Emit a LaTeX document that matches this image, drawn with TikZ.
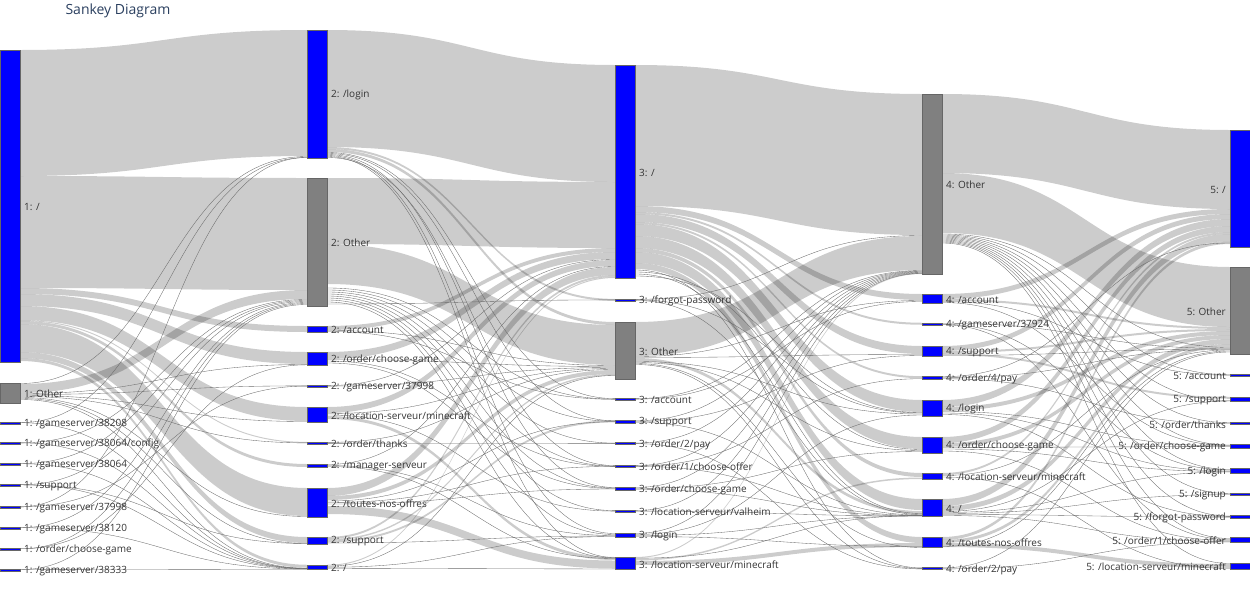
\documentclass[tikz,border=0pt]{standalone}
\usepackage{fontspec}
\setmainfont{Open Sans}
\usetikzlibrary{positioning}
\pgfdeclarelayer{links}
\pgfsetlayers{links,main}
\definecolor{pageblue}{RGB}{0,0,255}
\definecolor{othergray}{RGB}{128,128,128}
\definecolor{titleblue}{HTML}{2A3F5F}
\definecolor{labelgray}{HTML}{333333}

% ribbon: source, offset, target, offset, width (px from the node tops)
\newcommand\ribbon[5]{\fill[band] ([yshift={-(#2)*1pt}]#1.north east) .. controls +(144,0) and +(-144,0) .. ([yshift={-(#4)*1pt}]#3.north west)
  -- ([yshift={-(#4+#5)*1pt}]#3.north west) .. controls +(-144,0) and +(144,0) .. ([yshift={-(#2+#5)*1pt}]#1.north east) -- cycle;}
% thin link: source, offset, target, offset
\newcommand\hop[4]{\draw[hopline] ([yshift={-(#2)*1pt}]#1.north east) .. controls +(144,0) and +(-144,0) .. ([yshift={-(#4)*1pt}]#3.north west);}

\begin{document}
\begin{tikzpicture}[x=1pt,y=-1pt,
  bar/.style={rectangle, inner sep=0, outer sep=0, minimum width=20pt, draw=black!60, line width=0.3pt},
  pg/.style={bar, fill=pageblue},
  ot/.style={bar, fill=othergray},
  lbl/.style={inner sep=0, yshift=-1pt, font=\fontsize{10}{12}\selectfont, text=labelgray},
  band/.style={fill=black, fill opacity=0.2},
  hopline/.style={draw=black!58, line width=0.35pt}]
\useasboundingbox (0,0) rectangle (1250,600);

\node[anchor=west, font=\fontsize{14}{16}\selectfont, text=titleblue] (title) at (62,11) {Sankey Diagram};

% step 1
\node[pg, minimum height=312pt] (a1) at (10,206) {};
\node[ot, minimum height=20pt] (a2) at (10,393) {};
\node[pg, minimum height=1.6pt] (a3) at (10,423) {};
\node[pg, minimum height=1.8pt] (a4) at (10,443) {};
\node[pg, minimum height=1.6pt] (a5) at (10,464) {};
\node[pg, minimum height=2.4pt] (a6) at (10,485) {};
\node[pg, minimum height=1.8pt] (a7) at (10,507) {};
\node[pg, minimum height=1.6pt] (a8) at (10,528) {};
\node[pg, minimum height=2.4pt] (a9) at (10,549) {};
\node[pg, minimum height=1.6pt] (a10) at (10,570) {};

% step 2
\node[pg, minimum height=128pt] (b1) at (317,94) {};
\node[ot, minimum height=128pt] (b2) at (317,242) {};
\node[pg, minimum height=6pt] (b3) at (317,329) {};
\node[pg, minimum height=13pt] (b4) at (317,358.5) {};
\node[pg, minimum height=1.8pt] (b5) at (317,386) {};
\node[pg, minimum height=15pt] (b6) at (317,414.5) {};
\node[pg, minimum height=2.2pt] (b7) at (317,443) {};
\node[pg, minimum height=3pt] (b8) at (317,465.5) {};
\node[pg, minimum height=29pt] (b9) at (317,502.5) {};
\node[pg, minimum height=7pt] (b10) at (317,540.5) {};
\node[pg, minimum height=4.5pt] (b11) at (317,567) {};

% step 3
\node[pg, minimum height=213pt] (c1) at (625,171.5) {};
\node[pg, minimum height=2.2pt] (c2) at (625,300) {};
\node[ot, minimum height=57pt] (c3) at (625,350.5) {};
\node[pg, minimum height=1.8pt] (c4) at (625,399) {};
\node[pg, minimum height=2.5pt] (c5) at (625,421.5) {};
\node[pg, minimum height=1.8pt] (c6) at (625,443.5) {};
\node[pg, minimum height=1.8pt] (c7) at (625,466) {};
\node[pg, minimum height=3pt] (c8) at (625,488.5) {};
\node[pg, minimum height=1.8pt] (c9) at (625,511) {};
\node[pg, minimum height=4pt] (c10) at (625,535) {};
\node[pg, minimum height=12.5pt] (c11) at (625,563.25) {};

% step 4
\node[ot, minimum height=180pt] (d1) at (932,184) {};
\node[pg, minimum height=9pt] (d2) at (932,298.5) {};
\node[pg, minimum height=2.5pt] (d3) at (932,324) {};
\node[pg, minimum height=10pt] (d4) at (932,351) {};
\node[pg, minimum height=3pt] (d5) at (932,377.7) {};
\node[pg, minimum height=16pt] (d6) at (932,408) {};
\node[pg, minimum height=16pt] (d7) at (932,445) {};
\node[pg, minimum height=6pt] (d8) at (932,476) {};
\node[pg, minimum height=17pt] (d9) at (932,507.5) {};
\node[pg, minimum height=10pt] (d10) at (932,542) {};
\node[pg, minimum height=2.2pt] (d11) at (932,568.5) {};

% step 5
\node[pg, minimum height=117pt] (e1) at (1240,188.5) {};
\node[ot, minimum height=87pt] (e2) at (1240,310.5) {};
\node[pg, minimum height=2.2pt] (e3) at (1240,375.3) {};
\node[pg, minimum height=4.5pt] (e4) at (1240,399) {};
\node[pg, minimum height=2.2pt] (e5) at (1240,423.3) {};
\node[pg, minimum height=4pt] (e6) at (1240,446) {};
\node[pg, minimum height=5pt] (e7) at (1240,471) {};
\node[pg, minimum height=2.2pt] (e8) at (1240,494.3) {};
\node[pg, minimum height=2.2pt] (e9) at (1240,516.7) {};
\node[pg, minimum height=5pt] (e10) at (1240,540) {};
\node[pg, minimum height=6pt] (e11) at (1240,566) {};

% labels
\node[lbl, right=4pt of a1] {1: /};
\node[lbl, right=4pt of a2] {1: Other};
\node[lbl, right=4pt of a3] {1: /gameserver/38208};
\node[lbl, right=4pt of a4] {1: /gameserver/38064/config};
\node[lbl, right=4pt of a5] {1: /gameserver/38064};
\node[lbl, right=4pt of a6] {1: /support};
\node[lbl, right=4pt of a7] {1: /gameserver/37998};
\node[lbl, right=4pt of a8] {1: /gameserver/38120};
\node[lbl, right=4pt of a9] {1: /order/choose-game};
\node[lbl, right=4pt of a10] {1: /gameserver/38333};
\node[lbl, right=4pt of b1] {2: /login};
\node[lbl, right=4pt of b2] {2: Other};
\node[lbl, right=4pt of b3] {2: /account};
\node[lbl, right=4pt of b4] {2: /order/choose-game};
\node[lbl, right=4pt of b5] {2: /gameserver/37998};
\node[lbl, right=4pt of b6] {2: /location-serveur/minecraft};
\node[lbl, right=4pt of b7] {2: /order/thanks};
\node[lbl, right=4pt of b8] {2: /manager-serveur};
\node[lbl, right=4pt of b9] {2: /toutes-nos-offres};
\node[lbl, right=4pt of b10] {2: /support};
\node[lbl, right=4pt of b11] {2: /};
\node[lbl, right=4pt of c1] {3: /};
\node[lbl, right=4pt of c2] {3: /forgot-password};
\node[lbl, right=4pt of c3] {3: Other};
\node[lbl, right=4pt of c4] {3: /account};
\node[lbl, right=4pt of c5] {3: /support};
\node[lbl, right=4pt of c6] {3: /order/2/pay};
\node[lbl, right=4pt of c7] {3: /order/1/choose-offer};
\node[lbl, right=4pt of c8] {3: /order/choose-game};
\node[lbl, right=4pt of c9] {3: /location-serveur/valheim};
\node[lbl, right=4pt of c10] {3: /login};
\node[lbl, right=4pt of c11] {3: /location-serveur/minecraft};
\node[lbl, right=4pt of d1] {4: Other};
\node[lbl, right=4pt of d2] {4: /account};
\node[lbl, right=4pt of d3] {4: /gameserver/37924};
\node[lbl, right=4pt of d4] {4: /support};
\node[lbl, right=4pt of d5] {4: /order/4/pay};
\node[lbl, right=4pt of d6] {4: /login};
\node[lbl, right=4pt of d7] {4: /order/choose-game};
\node[lbl, right=4pt of d8] {4: /location-serveur/minecraft};
\node[lbl, right=4pt of d9] {4: /};
\node[lbl, right=4pt of d10] {4: /toutes-nos-offres};
\node[lbl, right=4pt of d11] {4: /order/2/pay};
\node[lbl, left=4pt of e1] {5: /};
\node[lbl, left=4pt of e2] {5: Other};
\node[lbl, left=4pt of e3] {5: /account};
\node[lbl, left=4pt of e4] {5: /support};
\node[lbl, left=4pt of e5] {5: /order/thanks};
\node[lbl, left=4pt of e6] {5: /order/choose-game};
\node[lbl, left=4pt of e7] {5: /login};
\node[lbl, left=4pt of e8] {5: /signup};
\node[lbl, left=4pt of e9] {5: /forgot-password};
\node[lbl, left=4pt of e10] {5: /order/1/choose-offer};
\node[lbl, left=4pt of e11] {5: /location-serveur/minecraft};

\begin{pgfonlayer}{links}
% step 1 -> 2
\ribbon{a1}{0}{b1}{0}{126}
\ribbon{a1}{126}{b2}{0}{112}
\ribbon{a1}{238}{b3}{0}{6}
\ribbon{a1}{244}{b4}{0}{12}
\ribbon{a1}{256}{b6}{0}{14}
\ribbon{a1}{270}{b7}{0}{1}
\ribbon{a1}{271}{b8}{0}{3}
\ribbon{a1}{274}{b9}{0}{28}
\ribbon{a1}{302}{b10}{0}{6}
\ribbon{a1}{308}{b11}{0}{3}
\ribbon{a2}{1}{b2}{112}{9}
% step 2 -> 3
\ribbon{b1}{0}{c1}{0}{117}
\ribbon{b1}{117}{c2}{0}{2}
\ribbon{b1}{119}{c3}{0}{3}
\ribbon{b2}{0}{c1}{117}{66}
\ribbon{b2}{66}{c3}{3}{40}
\ribbon{b3}{0}{c1}{183}{4}
\ribbon{b4}{0}{c1}{187}{7}
\ribbon{b6}{0}{c1}{195}{6}
\ribbon{b6}{9}{c11}{0}{3}
\ribbon{b9}{0}{c1}{202}{8}
\ribbon{b9}{8}{c3}{48}{4}
\ribbon{b9}{18}{c11}{3.5}{8}
\ribbon{b10}{0}{c1}{210}{2}
\ribbon{b10}{2}{c3}{52}{1.5}
\ribbon{b10}{3.5}{c5}{0}{2}
\ribbon{b11}{0}{c1}{212}{1}
% step 3 -> 4
\ribbon{c1}{0}{d1}{0}{141}
\ribbon{c1}{141}{d2}{0}{6}
\ribbon{c1}{147}{d3}{0}{2}
\ribbon{c1}{149}{d4}{0}{8}
\ribbon{c1}{157}{d5}{0}{2}
\ribbon{c1}{159}{d6}{0}{12}
\ribbon{c1}{171}{d7}{0}{12}
\ribbon{c1}{183}{d8}{0}{4}
\ribbon{c1}{187}{d9}{0}{11}
\ribbon{c1}{198}{d10}{0}{6}
\ribbon{c3}{0}{d1}{142}{34}
\ribbon{c3}{36}{d9}{12}{3}
\ribbon{c11}{0}{d1}{179}{1}
\ribbon{c11}{2}{d8}{4.5}{1.5}
\ribbon{c11}{4}{d10}{6}{4}
% step 4 -> 5
\ribbon{d1}{0}{e1}{0}{79}
\ribbon{d1}{79}{e2}{0}{60}
\ribbon{d2}{0}{e1}{79}{5}
\ribbon{d2}{5}{e2}{60}{2}
\ribbon{d4}{0}{e1}{84}{5}
\ribbon{d4}{5}{e2}{62}{2}
\ribbon{d4}{7}{e4}{0}{2}
\ribbon{d6}{0}{e1}{89}{7}
\ribbon{d6}{7}{e2}{64}{4}
\ribbon{d7}{0}{e1}{96}{6}
\ribbon{d7}{6}{e2}{68}{4}
\ribbon{d8}{0}{e1}{102}{2}
\ribbon{d9}{0}{e1}{104}{7}
\ribbon{d9}{7}{e2}{72}{5}
\ribbon{d10}{0}{e1}{111}{3}
\ribbon{d10}{3}{e2}{77}{3}
\ribbon{d10}{6}{e11}{1}{4}

% thin links
\foreach \s/\so/\t/\to in {
  a2/0.5/b1/126.5, a2/10.5/b4/12.5, a2/11.5/b5/0.75, a2/12.5/b6/14.5, a2/13.5/b7/1,
  a2/14.5/b9/28.5, a2/15.5/b10/6.5, a2/16.5/b11/3.5,
  a3/0.5/b1/127.5, a3/0.5/b11/3.8, a4/0.75/b2/121.5, a4/0.75/b11/3.6,
  a5/0.5/b2/122.5, a5/0.5/b11/3.8, a6/1/b2/123.5, a6/1/b10/6.5, a6/1/b11/4,
  a7/0.75/b1/127.5, a7/0.75/b5/1, a8/0.5/b2/124.5, a8/0.5/b11/4.2,
  a9/1/b2/125.5, a9/1/b4/12.8, a10/0.5/b2/126.5, a10/0.5/b11/4.4,
  b1/122.5/c4/0.5, b1/123.5/c5/0.5, b1/124.5/c8/0.5, b1/125.5/c10/0.5,
  b1/126.5/c11/0.5, b1/127.5/c7/0.5,
  b2/110/c4/1, b2/112/c5/1, b2/114/c6/0.5, b2/116/c7/1, b2/118/c8/1,
  b2/120/c9/0.5, b2/122/c10/1.5, b2/124/c11/1, b2/126/c2/1,
  b3/4.5/c3/43.5, b3/5.5/c4/1.2, b4/7.5/c3/44.5, b4/9/c7/1.2, b4/11/c8/1.5,
  b5/0.5/c1/194.5, b5/1/c3/45.5, b6/6.5/c3/46.5, b6/8/c9/1,
  b7/0.5/c3/47.5, b7/1.5/c6/1, b8/0.5/c1/201.5, b8/1.5/c10/2.5, b8/2.5/c11/1.5,
  b9/13/c5/1.5, b9/14.5/c7/1.3, b9/16/c8/2, b10/6/c10/3,
  b11/1.5/c3/53.5, b11/2.5/c10/3.5, b11/3.5/c11/12,
  c1/205/d11/0.5, c1/207/d7/12.5, c1/209/d9/14.5, c1/211/d6/12.5,
  c2/0.5/d1/141.5, c2/1/d6/13, c2/1.5/d9/15.5,
  c3/34.5/d2/6.5, c3/35.5/d4/8.5, c3/39.5/d6/14, c3/40.5/d7/13.5,
  c3/41.5/d10/10.5, c3/42.5/d11/1,
  c4/0.5/d1/176.5, c4/1/d2/7.5, c5/0.5/d1/177, c5/1.2/d4/9.5, c5/2/d9/16,
  c6/0.5/d1/177.5, c6/1/d11/1.5, c7/0.5/d1/178, c7/1/d5/2.5, c7/1.2/d9/16.5,
  c8/0.5/d1/178.5, c8/1.5/d7/14.5, c8/2.5/d9/16.8, c9/0.5/d1/179, c9/1/d9/16.9,
  c10/0.5/d1/179.5, c10/1.5/d6/15, c10/2.5/d9/17, c10/3.5/d10/9.5, c11/1.2/d9/16.6,
  d1/140/e2/80.5, d1/141/e3/0.5, d1/142/e4/4, d1/143/e5/0.5, d1/144/e6/1,
  d1/145/e7/1, d1/146/e8/0.5, d1/147/e9/0.5, d1/148/e10/1, d1/149/e11/0.5,
  d2/7.5/e3/1, d2/8.5/e6/1.5, d3/0.5/e2/81.5, d3/1.5/e7/1.5, d3/2/e10/2,
  d4/9.5/e2/82, d5/0.5/e1/113, d5/1.5/e2/82.5, d5/2.5/e5/1.5,
  d6/11.5/e6/2, d6/13/e7/2.5, d6/14.5/e9/1, d7/10.5/e6/2.5, d7/12/e7/3,
  d7/14/e10/3, d8/2.5/e2/83, d8/4/e11/5.5, d9/12.5/e4/4.3, d9/13.5/e7/3.5,
  d9/14.5/e8/1.5, d9/15.5/e9/1.5, d9/16.5/e10/4, d10/9.5/e2/84,
  d11/0.5/e2/85, d11/1.5/e10/4.5}
  \hop{\s}{\so}{\t}{\to};
\end{pgfonlayer}
\end{tikzpicture}
\end{document}
